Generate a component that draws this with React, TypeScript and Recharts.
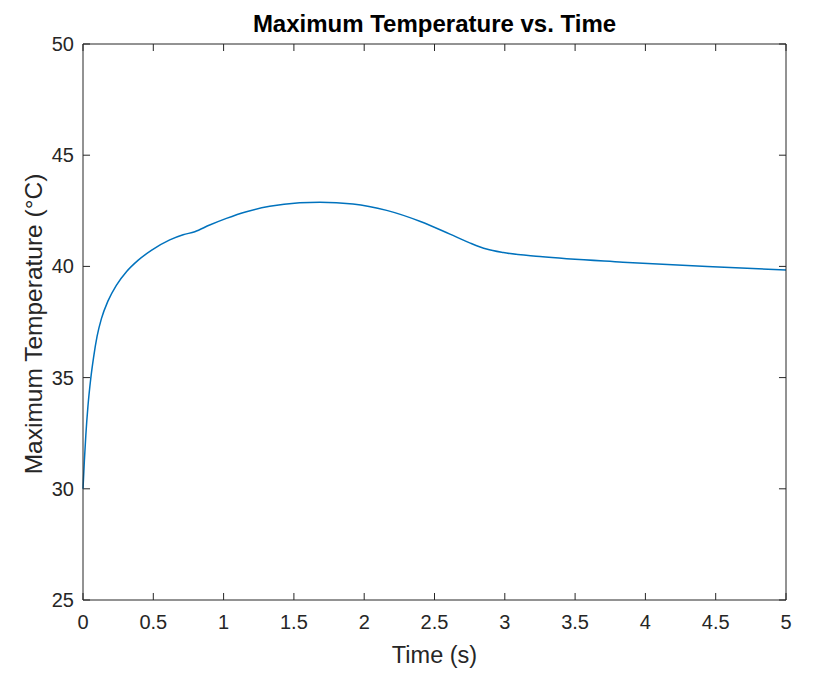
import { LineChart, Line, XAxis, YAxis, Label, ReferenceLine } from "recharts"

// values
const timeS = [
  0, 0.01, 0.02, 0.035, 0.055, 0.075, 0.1, 0.131, 0.178, 0.237, 0.309, 0.391,
  0.486, 0.617, 0.712, 0.795, 0.901, 1.02, 1.162, 1.328, 1.541, 1.685, 1.92,
  2.16, 2.4, 2.61, 2.75, 2.87, 2.99, 3.25, 3.84, 4.44, 5.0,
]
const maxTemp = [
  30.0, 31.3, 32.4, 33.7, 34.95, 35.9, 36.85, 37.65, 38.45, 39.15, 39.76, 40.27,
  40.72, 41.19, 41.42, 41.56, 41.86, 42.16, 42.46, 42.7, 42.86, 42.89, 42.81,
  42.52, 42.02, 41.45, 41.06, 40.78, 40.62, 40.44, 40.19, 39.99, 39.84,
]
const xTicks = [0, 0.5, 1, 1.5, 2, 2.5, 3, 3.5, 4, 4.5, 5]
const yTicks = [25, 30, 35, 40, 45, 50]
const xDomain: [number, number] = [0, 5]
const yDomain: [number, number] = [25, 50]

const data = timeS.map((t, i) => ({ t, temp: maxTemp[i] }))

const FONT = "'Liberation Sans', Arial, Helvetica, sans-serif"
const AXIS = "#262626"
// inward tick length, in data units (~7px on each axis)
const X_TICK_LEN = 0.05
const Y_TICK_LEN = 0.315

const BottomTick = (props: any) => {
  const { x, payload } = props
  return (
    <text x={x} y={629} textAnchor="middle" fontSize={20} fontFamily={FONT} fill={AXIS}>
      {payload.value}
    </text>
  )
}

const LeftTick = (props: any) => {
  const { y, payload } = props
  return (
    <text x={74} y={y + 7} textAnchor="end" fontSize={20} fontFamily={FONT} fill={AXIS}>
      {payload.value}
    </text>
  )
}

export default function App() {
  return (
    <div style={{ position: "absolute", left: 0, top: 0, background: "#fff" }}>
      <LineChart width={831} height={688} data={data} margin={{ top: 0, right: 0, bottom: 0, left: 0 }}>
        <XAxis
          xAxisId="bottom"
          dataKey="t"
          type="number"
          domain={xDomain}
          ticks={xTicks}
          height={88}
          stroke={AXIS}
          tickLine={false}
          tick={BottomTick}
          interval={0}
        >
          <Label
            content={() => (
              <text x={434.5} y={663} textAnchor="middle" fontSize={23.5} fontFamily={FONT} fill={AXIS}>
                Time (s)
              </text>
            )}
          />
        </XAxis>
        <XAxis
          xAxisId="top"
          orientation="top"
          dataKey="t"
          type="number"
          domain={xDomain}
          ticks={xTicks}
          height={44}
          stroke={AXIS}
          tickLine={false}
          tick={false}
        >
          <Label
            content={() => (
              <text x={434.5} y={32} textAnchor="middle" fontSize={24} fontWeight="bold" fontFamily={FONT} fill="#000">
                Maximum Temperature vs. Time
              </text>
            )}
          />
        </XAxis>
        <YAxis
          yAxisId="left"
          type="number"
          domain={yDomain}
          ticks={yTicks}
          width={83}
          stroke={AXIS}
          tickLine={false}
          tick={LeftTick}
          interval={0}
        >
          <Label
            content={() => (
              <text
                x={41.5}
                y={324}
                transform="rotate(-90 41.5 324)"
                textAnchor="middle"
                fontSize={24.5}
                fontFamily={FONT}
                fill={AXIS}
              >
                Maximum Temperature (°C)
              </text>
            )}
          />
        </YAxis>
        <YAxis
          yAxisId="right"
          orientation="right"
          type="number"
          domain={yDomain}
          ticks={yTicks}
          width={45}
          stroke={AXIS}
          tickLine={false}
          tick={false}
        />

        {/* inward tick marks on all four sides of the box */}
        {xTicks.map((v) => (
          <ReferenceLine
            key={`xb${v}`}
            xAxisId="bottom"
            yAxisId="left"
            segment={[{ x: v, y: yDomain[0] }, { x: v, y: yDomain[0] + Y_TICK_LEN }]}
            stroke={AXIS}
          />
        ))}
        {xTicks.map((v) => (
          <ReferenceLine
            key={`xt${v}`}
            xAxisId="bottom"
            yAxisId="left"
            segment={[{ x: v, y: yDomain[1] }, { x: v, y: yDomain[1] - Y_TICK_LEN }]}
            stroke={AXIS}
          />
        ))}
        {yTicks.map((v) => (
          <ReferenceLine
            key={`yl${v}`}
            xAxisId="bottom"
            yAxisId="left"
            segment={[{ x: xDomain[0], y: v }, { x: xDomain[0] + X_TICK_LEN, y: v }]}
            stroke={AXIS}
          />
        ))}
        {yTicks.map((v) => (
          <ReferenceLine
            key={`yr${v}`}
            xAxisId="bottom"
            yAxisId="left"
            segment={[{ x: xDomain[1], y: v }, { x: xDomain[1] - X_TICK_LEN, y: v }]}
            stroke={AXIS}
          />
        ))}

        <Line
          xAxisId="bottom"
          yAxisId="left"
          type="monotone"
          dataKey="temp"
          stroke="#0072BD"
          strokeWidth={1.5}
          dot={false}
          isAnimationActive={false}
        />
      </LineChart>
    </div>
  )
}
